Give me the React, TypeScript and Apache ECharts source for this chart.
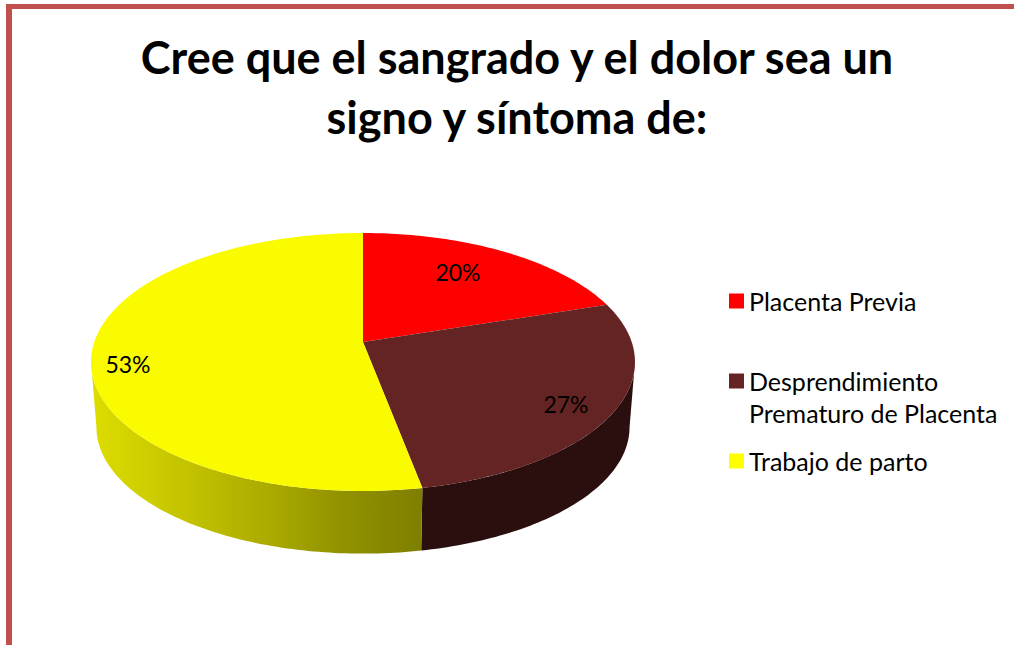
import React, { useEffect, useRef } from "react";
import * as echarts from "echarts";

const titleLines = ["Cree que el sangrado y el dolor sea un", "signo y síntoma de:"];
const categories = ["Placenta Previa", "Desprendimiento\nPrematuro de Placenta", "Trabajo de parto"];
const values = [20, 27, 53];
const topColors = ["#FF0000", "#632423", "#FBFB00"];
const legendColors = ["#FF0000", "#632423", "#FFFF00"];
const labelCentres = [[458, 272], [566, 404], [128, 364]];
const legendRows = [301, 381, 461];

const FONT = "Lato";
const CX = 363, CY = 342, A = 268.7, B = 125.9, K = 0.155;
const DEPTH_Y = 407.6, DEPTH_S = 0.98;
const SIL0 = Math.acos(-K), SIL1 = Math.PI * 2 - SIL0;
const total = values.reduce((a, b) => a + b, 0);

const angleAt = (i: number) =>
  (values.slice(0, i).reduce((a, b) => a + b, 0) / total) * Math.PI * 2;

function project(t: number, cy: number, s: number): number[] {
  const w = 1 + K * Math.cos(t);
  return [CX + (s * A * Math.sin(t)) / w, cy - (s * B * Math.cos(t)) / w];
}

function arc(a0: number, a1: number, cy: number, s: number): number[][] {
  const n = Math.max(2, Math.ceil(((a1 - a0) * 180) / Math.PI));
  const pts: number[][] = [];
  for (let j = 0; j <= n; j++) pts.push(project(a0 + ((a1 - a0) * j) / n, cy, s));
  return pts;
}

const sideFills = [
  "#800000",
  "#2A0F0E",
  new echarts.graphic.LinearGradient(0, 0, 1, 0, [
    { offset: 0, color: "#DDDD00" },
    { offset: 0.3, color: "#C2C200" },
    { offset: 0.55, color: "#A9A900" },
    { offset: 0.75, color: "#929200" },
    { offset: 1, color: "#7F7F00" },
  ]),
];

export default function App() {
  const ref = useRef<HTMLDivElement>(null);
  useEffect(() => {
    const chart = echarts.init(ref.current!, null, { renderer: "svg" });
    const seriesData = values.map((v, i) => ({ value: v, name: categories[i].replace("\n", " ") }));
    chart.setOption({
      animation: false,
      backgroundColor: "#FFFFFF",
      title: {
        text: titleLines.join("\n"),
        left: 512,
        top: 22,
        textAlign: "center",
        textStyle: { fontFamily: FONT, fontWeight: "bold", fontSize: 45, lineHeight: 60, color: "#000000" },
      },
      series: [
        {
          type: "custom",
          coordinateSystem: "none",
          data: seriesData,
          z: 1,
          renderItem: (params: any) => {
            const i = params.dataIndex;
            const a0 = Math.max(angleAt(i), SIL0), a1 = Math.min(angleAt(i + 1), SIL1);
            if (a1 <= a0) return { type: "group", children: [] };
            return {
              type: "polygon",
              shape: { points: [...arc(a0, a1, CY, 1), ...arc(a0, a1, DEPTH_Y, DEPTH_S).reverse()] },
              style: { fill: sideFills[i] },
            };
          },
        },
        {
          type: "custom",
          coordinateSystem: "none",
          data: seriesData,
          z: 2,
          renderItem: (params: any, api: any) => {
            const i = params.dataIndex;
            const a0 = angleAt(i), a1 = angleAt(i + 1);
            return {
              type: "group",
              children: [
                {
                  type: "polygon",
                  shape: { points: [[CX, CY], ...arc(a0, a1, CY, 1)] },
                  style: { fill: topColors[i] },
                },
                {
                  type: "text",
                  z2: 10,
                  x: labelCentres[i][0],
                  y: labelCentres[i][1],
                  style: {
                    text: `${Math.round((api.value(0) / total) * 100)}%`,
                    fontFamily: FONT,
                    fontSize: 23,
                    fill: "#000000",
                    align: "center",
                    verticalAlign: "middle",
                  },
                },
              ],
            };
          },
        },
      ],
      graphic: [
        { type: "rect", shape: { x: 6, y: 4, width: 1008, height: 5 }, style: { fill: "#C0504D" } },
        { type: "rect", shape: { x: 6, y: 4, width: 6, height: 641 }, style: { fill: "#C0504D" } },
        ...categories.flatMap((c, i) => {
          const first = legendRows[i];
          return [
            { type: "rect", shape: { x: 729, y: first - 7.5, width: 15, height: 15 }, style: { fill: legendColors[i] } },
            {
              type: "text",
              x: 749,
              y: first - 16.5,
              style: { text: c, fontFamily: FONT, fontSize: 25, lineHeight: 32, fill: "#000000", align: "left", verticalAlign: "top" },
            },
          ];
        }),
      ],
    });
    return () => chart.dispose();
  }, []);
  return <div ref={ref} style={{ position: "absolute", left: 0, top: 0, width: 1014, height: 645 }} />;
}
